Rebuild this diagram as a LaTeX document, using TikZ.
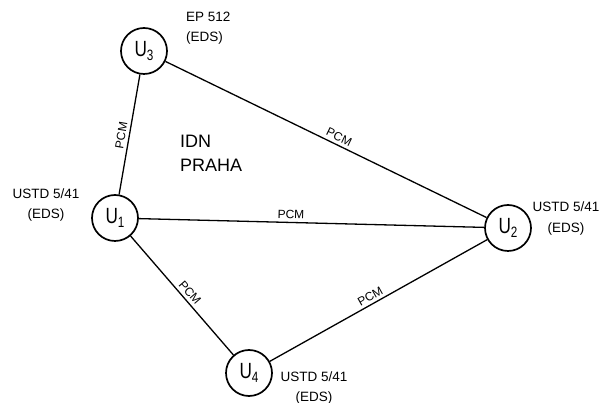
\documentclass[tikz,border=0pt]{standalone}
\usepackage{fontspec}
\setmainfont{Liberation Sans}
\newfontfamily\narrowfont[FakeStretch=0.78]{Liberation Sans}
\newcommand{\unode}[1]{{\narrowfont\fontsize{22}{22}\selectfont U\raisebox{-4.5pt}{\fontsize{15}{15}\selectfont #1}}}
\begin{document}
\begin{tikzpicture}[x=1pt,y=1pt,
  station/.style={circle, draw, line width=1.7pt, minimum size=46pt, inner sep=0pt},
  link/.style={line width=1.3pt},
  pcm/.style={font=\fontsize{12}{12}\selectfont, sloped, above, inner sep=3pt},
  lbl/.style={font=\fontsize{13.5}{20}\selectfont, align=center, inner sep=0pt},
  title/.style={font=\fontsize{18}{24}\selectfont, align=left, inner sep=0pt}]
\path[use as bounding box] (0,0) rectangle (604,403);
\node[station] (U3) at (144,352) {\unode{3}};
\node[station] (U1) at (115,185) {\unode{1}};
\node[station] (U2) at (508,175) {\unode{2}};
\node[station] (U4) at (249,30) {\unode{4}};
\draw[link] (U1) -- node[pcm, pos=0.48] {PCM} (U3);
\draw[link] (U3) -- node[pcm, pos=0.53] {PCM} (U2);
\draw[link] (U1) -- node[pcm, pos=0.44] {PCM} (U2);
\draw[link] (U1) -- node[pcm, pos=0.52] {PCM} (U4);
\draw[link] (U4) -- node[pcm, pos=0.48] {PCM} (U2);
\node[lbl, align=left, anchor=west] (l3) at (186,375) {EP 512\\(EDS)};
\node[lbl] (l1) at (46,198) {USTD 5/41\\(EDS)};
\node[lbl, font=\fontsize{13.5}{21}\selectfont] (l2) at (566,184) {USTD 5/41\\(EDS)};
\node[lbl] (l4) at (314,15) {USTD 5/41\\(EDS)};
\node[title, anchor=west] (idn) at (180,250) {IDN\\PRAHA};
\end{tikzpicture}
\end{document}
